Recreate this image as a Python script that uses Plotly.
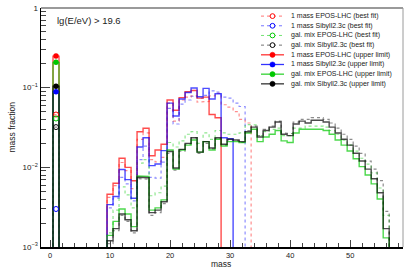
import plotly.graph_objects as go

# ---------------- data ----------------
FIRST_HEAVY = 10          # first mass of the heavy-part lists
MAX_MASS = 56

labels = [
    "1 mass EPOS-LHC (best fit)",
    "1 mass Sibyll2.3c (best fit)",
    "gal. mix EPOS-LHC (best fit)",
    "gal. mix Sibyll2.3c (best fit)",
    "1 mass EPOS-LHC (upper limit)",
    "1 mass Sibyll2.3c (upper limit)",
    "gal. mix EPOS-LHC (upper limit)",
    "gal. mix Sibyll2.3c (upper limit)",
]

# proton (mass 1) fractions
proton = [0.046, 0.003, 0.041, 0.032, 0.249, 0.089, 0.208, 0.104]

# fractions from mass 10 upward
red_bf = [0.0042, 0.0059, 0.0115, 0.0091, 0.0054, 0.0225, 0.027, 0.0125, 0.0117, 0.0133,
          0.064, 0.038, 0.070, 0.076, 0.079, 0.066, 0.067, 0.079, 0.085, 0.061,
          0.057, 0.050, 0.040, 0.036]
blue_bf = [0.0031, 0.0041, 0.0075, 0.0062, 0.0038, 0.0125, 0.0185, 0.0075, 0.0073, 0.0116,
           0.055, 0.035, 0.062, 0.070, 0.078, 0.074, 0.080, 0.091, 0.088, 0.076,
           0.074, 0.064, 0.058]
green_bf = [0.0015, 0.0029, 0.0057, 0.0045, 0.0031, 0.0113, 0.0125, 0.0044, 0.0048, 0.0058,
            0.0205, 0.0180, 0.0215, 0.026, 0.028, 0.020, 0.027, 0.0225, 0.029, 0.027,
            0.026, 0.026, 0.027, 0.0345, 0.034, 0.025, 0.028, 0.030, 0.031, 0.025,
            0.025, 0.031, 0.031, 0.033, 0.033, 0.033, 0.032, 0.029, 0.026, 0.022,
            0.019, 0.016, 0.013, 0.011, 0.0085, 0.0055, 0.0025]
black_bf = [0.0011, 0.0016, 0.0025, 0.0021, 0.0015, 0.0072, 0.0071, 0.0025, 0.0027, 0.0035,
            0.0150, 0.0092, 0.016, 0.0195, 0.0235, 0.0150, 0.020, 0.0170, 0.0230, 0.019,
            0.022, 0.0215, 0.0205, 0.029, 0.033, 0.025, 0.030, 0.033, 0.038, 0.027,
            0.0265, 0.037, 0.040, 0.040, 0.042, 0.042, 0.040, 0.036, 0.031, 0.026,
            0.0225, 0.0185, 0.015, 0.012, 0.0095, 0.0068, 0.0028]
red_ul = [0.0046, 0.0063, 0.013, 0.010, 0.0068, 0.028, 0.031, 0.014, 0.0165, 0.0195,
          0.070, 0.052, 0.075, 0.089, 0.092, 0.074, 0.076, 0.046, 0.042]
blue_ul = [0.0034, 0.0043, 0.0094, 0.0070, 0.0041, 0.018, 0.0235, 0.0105, 0.011, 0.0162,
           0.064, 0.044, 0.072, 0.087, 0.099, 0.077, 0.098, 0.072, 0.084, 0.0235,
           0.0228]
green_ul = [0.0014, 0.0021, 0.0030, 0.0026, 0.0018, 0.0078, 0.0077, 0.0029, 0.0031, 0.0039,
            0.0165, 0.0095, 0.0165, 0.019, 0.022, 0.0155, 0.021, 0.0165, 0.0225, 0.0185,
            0.021, 0.021, 0.0205, 0.027, 0.030, 0.021, 0.024, 0.026, 0.029, 0.0215,
            0.0205, 0.027, 0.030, 0.030, 0.030, 0.030, 0.029, 0.026, 0.022, 0.019,
            0.016, 0.0128, 0.0102, 0.0080, 0.0062, 0.0040, 0.0013]
black_ul = [0.0012, 0.0017, 0.0026, 0.0022, 0.0016, 0.0075, 0.0074, 0.0027, 0.0029, 0.0037,
            0.0158, 0.0098, 0.0168, 0.020, 0.0235, 0.0155, 0.021, 0.0175, 0.0235, 0.0195,
            0.0225, 0.022, 0.021, 0.028, 0.032, 0.024, 0.029, 0.032, 0.037, 0.026,
            0.025, 0.035, 0.038, 0.036, 0.039, 0.039, 0.037, 0.032, 0.027, 0.0225,
            0.019, 0.015, 0.012, 0.0095, 0.0072, 0.0048, 0.0017]

heavy = [red_bf, blue_bf, green_bf, black_bf, red_ul, blue_ul, green_ul, black_ul]

x_ticks = [0, 10, 20, 30, 40, 50]
y_ticks = [1e-3, 1e-2, 1e-1, 1]
y_ticktext = ["10<sup>\u22123</sup>", "10<sup>\u22122</sup>", "10<sup>\u22121</sup>", "1"]

# ---------------- style ----------------
base = [(255, 0, 0), (0, 0, 255), (0, 200, 0), (0, 0, 0)] * 2
is_best = [True] * 4 + [False] * 4
FONT = "Liberation Sans, Arial, Helvetica, sans-serif"

# plot-area geometry (pixels)
W, H = 407, 275
L, R, T, B = 41, 4, 5, 28
PW, PH = W - L - R, H - T - B


def px_to_paper(px, py):
    return (px - L) / PW, (H - B - py) / PH


def full_series(p, tail):
    vals = [0.0] * MAX_MASS
    vals[0] = p
    for i, v in enumerate(tail):
        vals[FIRST_HEAVY - 1 + i] = v
    return vals


def step_path(vals):
    floor = 1e-6
    xs, ys = [], []
    prev = floor
    for i, v in enumerate(vals):
        m = i + 1
        ve = v if v > 0 else floor
        xs += [m - 0.5, m - 0.5, m + 0.5]
        ys += [prev, ve, ve]
        prev = ve
    xs.append(MAX_MASS + 0.5)
    ys.append(floor)
    return xs, ys


fig = go.Figure()

for k in range(8):
    r, g, b = base[k]
    vals = full_series(proton[k], heavy[k])
    xs, ys = step_path(vals)
    if is_best[k]:
        lc = f"rgba({r},{g},{b},0.45)"
        line = dict(color=lc, width=1.2, dash="dot")
    else:
        lc = f"rgba({r},{g},{b},0.7)"
        line = dict(color=lc, width=1.4)
    fig.add_trace(go.Scatter(x=xs, y=ys, mode="lines", line=line,
                             hoverinfo="skip", showlegend=False))

# markers at mass 1
for k in range(8):
    r, g, b = base[k]
    mc = f"rgb({r},{g},{b})"
    if is_best[k]:
        marker = dict(symbol="circle-open", size=5, color=mc, line=dict(width=1, color=mc))
    else:
        marker = dict(symbol="circle", size=5.5, color=mc, line=dict(width=0))
    fig.add_trace(go.Scatter(x=[1], y=[proton[k]], mode="markers", marker=marker,
                             showlegend=False, cliponaxis=False, hoverinfo="skip"))

# ---------------- manual legend ----------------
shapes = []
annotations = []
for i, lab in enumerate(labels):
    r, g, b = base[i]
    py = 13.2 + 9.8 * i
    x0, yy = px_to_paper(261, py)
    x1, _ = px_to_paper(284, py)
    xm, _ = px_to_paper(272.5, py)
    xt, _ = px_to_paper(289, py)
    if is_best[i]:
        shapes.append(dict(type="line", xref="paper", yref="paper", x0=x0, x1=x1, y0=yy, y1=yy,
                           line=dict(color=f"rgba({r},{g},{b},0.55)", width=1, dash="dot")))
        shapes.append(dict(type="circle", xref="paper", yref="paper", xsizemode="pixel",
                           ysizemode="pixel", xanchor=xm, yanchor=yy, x0=-2.4, x1=2.4,
                           y0=-2.4, y1=2.4, fillcolor="white",
                           line=dict(color=f"rgb({r},{g},{b})", width=1)))
    else:
        shapes.append(dict(type="line", xref="paper", yref="paper", x0=x0, x1=x1, y0=yy, y1=yy,
                           line=dict(color=f"rgba({r},{g},{b},0.8)", width=1.3)))
        shapes.append(dict(type="circle", xref="paper", yref="paper", xsizemode="pixel",
                           ysizemode="pixel", xanchor=xm, yanchor=yy, x0=-2.6, x1=2.6,
                           y0=-2.6, y1=2.6, fillcolor=f"rgb({r},{g},{b})",
                           line=dict(color=f"rgb({r},{g},{b})", width=0.5)))
    annotations.append(dict(text=lab, xref="paper", yref="paper", x=xt, y=yy,
                            xanchor="left", yanchor="middle", showarrow=False,
                            font=dict(family=FONT, size=7, color="#222")))

# frame: gray top and right
shapes.append(dict(type="line", xref="paper", yref="paper", x0=0, x1=1, y0=1, y1=1,
                   line=dict(color="#9a9a9a", width=2)))
shapes.append(dict(type="line", xref="paper", yref="paper", x0=1, x1=1, y0=0, y1=1,
                   line=dict(color="#9a9a9a", width=1)))

# energy label
ax, ay = px_to_paper(55, 17.7)
annotations.append(dict(text="lg(E/eV) > 19.6", xref="paper", yref="paper", x=ax, y=ay,
                        xanchor="left", yanchor="middle", showarrow=False,
                        font=dict(family=FONT, size=9.5, color="#222")))
# axis titles
tx, ty = px_to_paper(221, 264.5)
annotations.append(dict(text="mass", xref="paper", yref="paper", x=tx, y=ty,
                        xanchor="center", yanchor="middle", showarrow=False,
                        font=dict(family=FONT, size=8.5, color="#222")))
tx, ty = px_to_paper(11, 126)
annotations.append(dict(text="mass fraction", xref="paper", yref="paper", x=tx, y=ty,
                        xanchor="center", yanchor="middle", showarrow=False, textangle=-90,
                        font=dict(family=FONT, size=8.5, color="#222")))

minor_y = [d * 10 ** e for e in (-3, -2, -1) for d in range(2, 10)]

fig.update_layout(
    width=W, height=H,
    margin=dict(l=L, r=R, t=T, b=B, pad=0),
    paper_bgcolor="white", plot_bgcolor="white",
    showlegend=False,
    shapes=shapes, annotations=annotations,
    font=dict(family=FONT, size=8, color="#222"),
    xaxis=dict(range=[-1.5, 58.8], tickvals=x_ticks, ticks="inside", ticklen=7,
               tickcolor="#444", tickwidth=1, showline=True, linecolor="black", linewidth=1.5,
               showgrid=False, zeroline=False,
               minor=dict(ticks="inside", ticklen=4, dtick=2, tickcolor="#444", showgrid=False),
               tickfont=dict(family=FONT, size=7.5, color="#222")),
    yaxis=dict(type="log", range=[-3, 0], tickvals=y_ticks, ticktext=y_ticktext,
               ticks="inside", ticklen=9, tickcolor="#444", tickwidth=1,
               showline=True, linecolor="black", linewidth=1.5,
               showgrid=False, zeroline=False,
               minor=dict(ticks="inside", ticklen=5, tickvals=minor_y, tickcolor="#444",
                          showgrid=False),
               tickfont=dict(family=FONT, size=8, color="#222")),
)

fig.write_html("out.html", config={"displayModeBar": False, "staticPlot": True})

# remove the default page margin so the figure sits at the window's top-left corner
with open("out.html", "r", encoding="utf-8") as fh:
    html = fh.read()
html = html.replace("<head>", "<head><style>html,body{margin:0;padding:0;}</style>", 1)
with open("out.html", "w", encoding="utf-8") as fh:
    fh.write(html)
